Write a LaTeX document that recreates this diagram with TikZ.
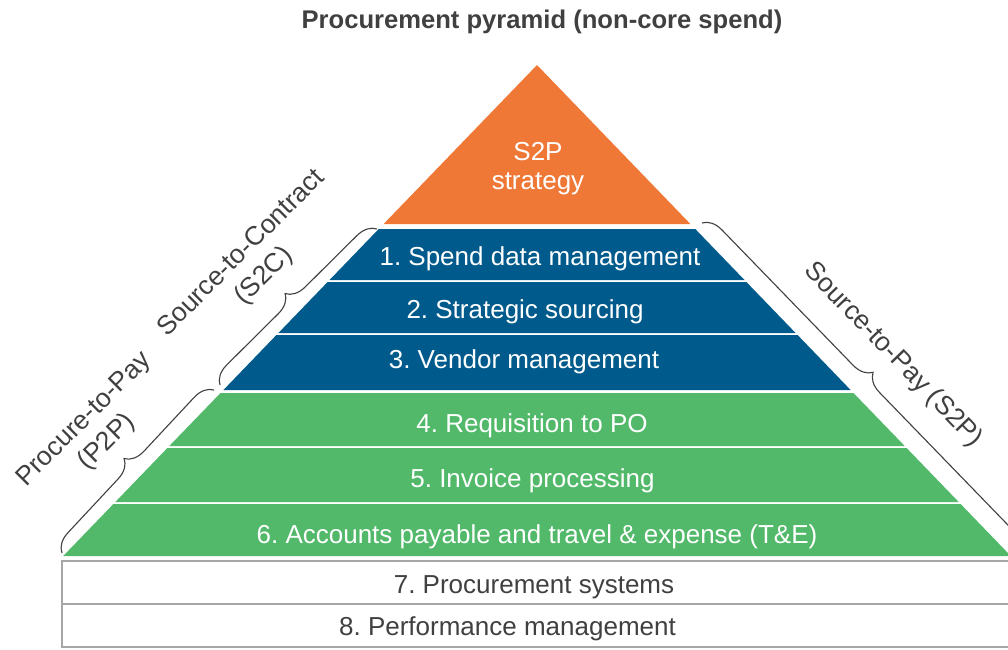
\documentclass[tikz,border=0pt]{standalone}
\usepackage{fontspec}
\setmainfont{Liberation Sans}
\usetikzlibrary{decorations.pathreplacing}
\definecolor{orng}{HTML}{F07837}
\definecolor{blu}{HTML}{005B8C}
\definecolor{grn}{HTML}{52B96A}
\definecolor{dgray}{HTML}{404040}
\definecolor{lgray}{HTML}{A6A6A6}
\frenchspacing
\begin{document}
\begin{tikzpicture}[x=1pt,y=-1pt,
  bandtext/.style={text=white,font=\fontsize{26}{30}\selectfont,anchor=base,inner sep=0pt},
  boxtext/.style={text=dgray,font=\fontsize{26}{30}\selectfont,anchor=base,inner sep=0pt},
  sidelabel/.style={text=dgray,font=\fontsize{26.5}{32}\selectfont,align=center,inner sep=0pt},
  bracestyle/.style={draw=dgray,line width=1.1pt,decorate,decoration={brace,amplitude=19pt}},
  boxline/.style={draw=lgray,line width=2pt,fill=white}]
\useasboundingbox (0,0) rectangle (1008,649);
\begin{scope}
\clip (0,0) rectangle (1008,649);
% title
\node[text=dgray,font=\bfseries\fontsize{25.6}{30}\selectfont,anchor=base,inner sep=0pt] (title) at (542,28) {Procurement pyramid (non-core spend)};
% pyramid layers
\fill[orng] (537,65) -- (690.4,224) -- (383.6,224) -- cycle;
\fill[blu] (378.7,229) -- (695.3,229) -- (744.5,280) -- (329.5,280) -- cycle;
\fill[blu] (327.6,282) -- (746.4,282) -- (795.6,333) -- (278.4,333) -- cycle;
\fill[blu] (276.4,335) -- (797.6,335) -- (850.6,390) -- (223.4,390) -- cycle;
\fill[grn] (220.5,393) -- (853.5,393) -- (904.7,446) -- (169.3,446) -- cycle;
\fill[grn] (167.4,448) -- (906.6,448) -- (958.7,502) -- (115.3,502) -- cycle;
\fill[grn] (113.4,504) -- (960.6,504) -- (1010.8,556) -- (63.2,556) -- cycle;
% bottom boxes
\draw[boxline] (62,561) rectangle (1030,604);
\draw[boxline] (62,604) rectangle (1030,647);
% texts
\node[bandtext] (s2p) at (538,160) {S2P};
\node[bandtext] (strat) at (538,189) {strategy};
\node[bandtext] (t1) at (540,265) {1. Spend data management};
\node[bandtext] (t2) at (525,318) {2. Strategic sourcing};
\node[bandtext] (t3) at (524,368) {3. Vendor management};
\node[bandtext] (t4) at (532,432) {4. Requisition to PO};
\node[bandtext] (t5) at (532.5,487) {5. Invoice processing};
\node[bandtext] (t6) at (537,543) {6. Accounts payable and travel \& expense (T\&E)};
\node[boxtext] (t7) at (534,593) {7. Procurement systems};
\node[boxtext] (t8) at (507.5,635) {8. Performance management};
% braces
\coordinate (s2cA) at (220,385);
\coordinate (s2cB) at (377,229);
\coordinate (p2pA) at (62,553);
\coordinate (p2pB) at (214,390);
\coordinate (s2pA) at (702,223);
\coordinate (s2pB) at (1017,548);
\draw[bracestyle] (s2cA) -- (s2cB);
\draw[bracestyle] (p2pA) -- (p2pB);
\draw[bracestyle] (s2pA) -- (s2pB);
% side labels
\node[sidelabel,rotate=45] (s2c) at (253,265) {Source-to-Contract\\(S2C)};
\node[sidelabel,rotate=45] (p2p) at (96,431) {Procure-to-Pay\\(P2P)};
\node[sidelabel,rotate=-46] (s2plab) at (893,355) {Source-to-Pay (S2P)};
\end{scope}
\end{tikzpicture}
\end{document}
